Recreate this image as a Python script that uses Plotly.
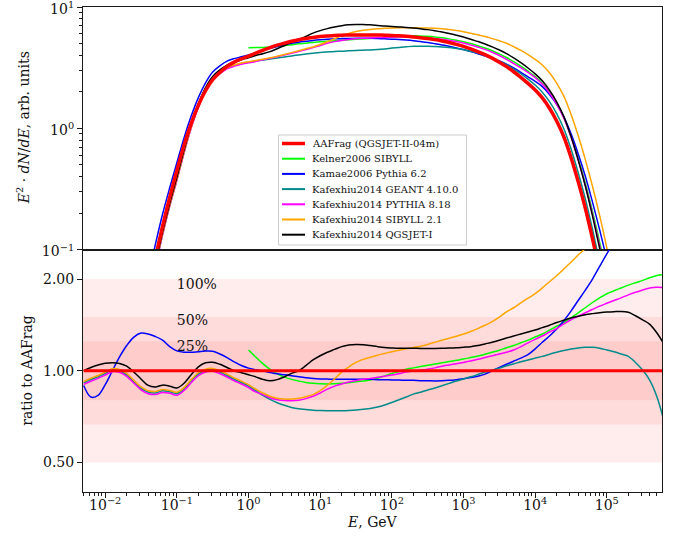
import plotly.graph_objects as go

# ---------------- data ----------------
log_E = [-2.3, -2.2, -2.1, -2.0, -1.9, -1.8, -1.7, -1.6, -1.5, -1.4,
         -1.3, -1.2, -1.1, -1.0, -0.9, -0.8, -0.7, -0.6, -0.5, -0.4,
         -0.3, -0.2, -0.1, 0.0, 0.1, 0.2, 0.3, 0.4, 0.5, 0.6,
         0.7, 0.8, 0.9, 1.0, 1.1, 1.2, 1.3, 1.4, 1.5, 1.6,
         1.7, 1.8, 1.9, 2.0, 2.1, 2.2, 2.3, 2.4, 2.5, 2.6,
         2.7, 2.8, 2.9, 3.0, 3.1, 3.2, 3.3, 3.4, 3.5, 3.6,
         3.7, 3.8, 3.9, 4.0, 4.1, 4.2, 4.3, 4.4, 4.5, 4.6,
         4.7, 4.8, 4.9, 5.0, 5.1, 5.2, 5.3, 5.4, 5.5, 5.6,
         5.7, 5.8]

# log10 of E^2 dN/dE for AAFrag (QGSJET-II-04m)
aafrag_log10 = [-4.0, -3.7, -3.4, -3.1, -2.8, -2.5, -2.2, -1.9, -1.62, -1.34,
                -1.07, -0.81, -0.57, -0.35, -0.14, 0.04, 0.19, 0.31, 0.40, 0.46,
                0.51, 0.545, 0.572, 0.595, 0.62, 0.643, 0.665, 0.685, 0.702, 0.717,
                0.73, 0.74, 0.749, 0.756, 0.761, 0.765, 0.767, 0.769, 0.77, 0.77,
                0.77, 0.769, 0.767, 0.765, 0.762, 0.758, 0.753, 0.747, 0.74, 0.731,
                0.72, 0.707, 0.692, 0.675, 0.655, 0.632, 0.607, 0.578, 0.545, 0.508,
                0.466, 0.42, 0.37, 0.315, 0.25, 0.165, 0.06, -0.07, -0.24, -0.44,
                -0.66, -0.91, -1.18, -1.47, -1.8, -2.15, -2.5, -2.9, -3.3, -3.75,
                -4.2, -4.7]

# ratios to AAFrag
ratio_kelner = [None] * 23 + [
    1.17, 1.11, 1.055, 1.01, 0.977, 0.953, 0.937,
    0.925, 0.915, 0.909, 0.906, 0.905, 0.906, 0.909, 0.914, 0.92, 0.926,
    0.932, 0.945, 0.962, 0.98, 0.995, 1.012, 1.022, 1.032, 1.042, 1.052,
    1.062, 1.072, 1.082, 1.092, 1.105, 1.118, 1.133, 1.15, 1.168, 1.19,
    1.21, 1.235, 1.26, 1.29, 1.32, 1.36, 1.4, 1.44, 1.49, 1.55,
    1.61, 1.675, 1.735, 1.79, 1.83, 1.87, 1.91, 1.945, 1.98, 2.02,
    2.055, 2.07]

ratio_kamae = [0.895, 0.82, 0.83, 0.9, 1.0, 1.11, 1.21, 1.29, 1.33, 1.32,
               1.295, 1.26, 1.2, 1.162, 1.15, 1.15, 1.155, 1.16, 1.158, 1.135,
               1.105, 1.07, 1.04, 1.02, 1.008, 0.998, 0.987, 0.977, 0.97, 0.963,
               0.955, 0.948, 0.943, 0.94, 0.939, 0.938, 0.938, 0.937, 0.937, 0.937,
               0.937, 0.935, 0.934, 0.933, 0.932, 0.931, 0.93, 0.928, 0.927, 0.926,
               0.927, 0.93, 0.935, 0.942, 0.95, 0.96, 0.975, 1.0, 1.025, 1.05,
               1.075, 1.10, 1.13, 1.18, 1.24, 1.30, 1.37, 1.46, 1.57, 1.70,
               1.84, 2.0, 2.2, 2.42, 2.65, 2.9, 3.2, 3.5, 3.8, 4.2,
               4.6, 5.0]

ratio_geant = [0.913, 0.936, 0.955, 0.98, 1.005, 1.0, 0.97, 0.921, 0.876, 0.851,
               0.846, 0.859, 0.853, 0.842, 0.871, 0.926, 0.975, 1.002, 1.008, 0.99,
               0.965, 0.938, 0.915, 0.89, 0.86, 0.83, 0.805, 0.785, 0.77, 0.758,
               0.75, 0.746, 0.742, 0.74, 0.739, 0.739, 0.739, 0.741, 0.744, 0.748,
               0.752, 0.76, 0.772, 0.787, 0.803, 0.82, 0.838, 0.85, 0.865, 0.878,
               0.893, 0.909, 0.925, 0.94, 0.955, 0.972, 0.99, 1.005, 1.02, 1.038,
               1.053, 1.07, 1.085, 1.1, 1.115, 1.133, 1.15, 1.165, 1.178, 1.188,
               1.194, 1.194, 1.185, 1.17, 1.155, 1.135, 1.115, 1.065, 1.005, 0.93,
               0.82, 0.68]

ratio_pythia = [0.902, 0.924, 0.944, 0.968, 0.993, 0.988, 0.958, 0.91, 0.866, 0.841,
                0.836, 0.849, 0.843, 0.831, 0.861, 0.914, 0.963, 0.99, 0.996, 0.978,
                0.954, 0.927, 0.905, 0.88, 0.852, 0.835, 0.815, 0.803, 0.798, 0.797,
                0.8, 0.81, 0.825, 0.845, 0.87, 0.89, 0.905, 0.918, 0.928, 0.937,
                0.944, 0.952, 0.96, 0.968, 0.978, 0.99, 0.997, 1.003, 1.012, 1.022,
                1.035, 1.045, 1.055, 1.065, 1.077, 1.09, 1.105, 1.12, 1.135, 1.15,
                1.17, 1.2, 1.235, 1.268, 1.30, 1.34, 1.375, 1.425, 1.47, 1.51,
                1.55, 1.59, 1.63, 1.665, 1.7, 1.735, 1.775, 1.81, 1.84, 1.87,
                1.88, 1.875]

ratio_sibyll = [0.922, 0.945, 0.965, 0.99, 1.015, 1.01, 0.98, 0.93, 0.885, 0.86,
                0.855, 0.868, 0.862, 0.85, 0.88, 0.935, 0.985, 1.012, 1.018, 1.0,
                0.975, 0.948, 0.925, 0.9, 0.87, 0.845, 0.825, 0.812, 0.807, 0.807,
                0.812, 0.822, 0.835, 0.86, 0.895, 0.94, 0.99, 1.03, 1.065, 1.09,
                1.108, 1.125, 1.14, 1.155, 1.168, 1.18, 1.192, 1.204, 1.22, 1.24,
                1.26, 1.278, 1.298, 1.32, 1.345, 1.375, 1.41, 1.45, 1.5, 1.56,
                1.61, 1.67, 1.73, 1.79, 1.87, 1.96, 2.05, 2.16, 2.27, 2.4,
                2.52, 2.7, 2.88, 3.05, 3.25, 3.45, 3.7, 3.95, 4.2, 4.5,
                4.8, 5.1]

ratio_qgsjet = [1.0, 1.025, 1.045, 1.058, 1.063, 1.057, 1.035, 0.99, 0.94, 0.895,
                0.885, 0.897, 0.89, 0.878, 0.91, 0.97, 1.03, 1.062, 1.066, 1.05,
                1.025, 1.0, 0.985, 0.97, 0.955, 0.937, 0.927, 0.935, 0.955, 0.98,
                1.0, 1.04, 1.085, 1.12, 1.15, 1.175, 1.2, 1.215, 1.22, 1.218,
                1.21, 1.2, 1.192, 1.188, 1.185, 1.185, 1.185, 1.184, 1.184, 1.184,
                1.185, 1.187, 1.19, 1.195, 1.2, 1.21, 1.225, 1.24, 1.26, 1.28,
                1.3, 1.32, 1.34, 1.36, 1.385, 1.41, 1.44, 1.465, 1.49, 1.51,
                1.528, 1.54, 1.55, 1.558, 1.563, 1.566, 1.555, 1.515, 1.47, 1.42,
                1.33, 1.22]

series_names = ["AAFrag (QGSJET-II-04m)", "Kelner2006 SIBYLL", "Kamae2006 Pythia 6.2",
                "Kafexhiu2014 GEANT 4.10.0", "Kafexhiu2014 PYTHIA 8.18",
                "Kafexhiu2014 SIBYLL 2.1", "Kafexhiu2014 QGSJET-I"]

band_labels = ["100%", "50%", "25%"]
band_low = [0.5, 2.0 / 3.0, 0.8]
band_high = [2.0, 1.5, 1.25]
band_label_x = [0.1, 0.1, 0.1]
band_label_y = [1.9, 1.45, 1.19]

x_tick_exp = [-2, -1, 0, 1, 2, 3, 4, 5]
ratio_ticks = [0.5, 1.0, 2.0]
ratio_ticktext = ["0.50", "1.00", "2.00"]

# ---------------- styles ----------------
colors = ["#ff0000", "#00ff00", "#0000ff", "#008b8b", "#ff00ff", "#ffa500", "#000000"]
widths = [3.5, 1.5, 1.5, 1.5, 1.5, 1.5, 1.5]
FONT = "DejaVu Serif"
AX = "#1a1a1a"
TXT = "#111111"

W, H = 682, 539
ML, MR, MT, MB = 83, 20, 7, 47
PW, PH = W - ML - MR, H - MT - MB


def px(X):
    return (X - ML) / PW


def py(Y):
    return (H - MB - Y) / PH


E = [10 ** v for v in log_E]
aafrag = [10 ** v for v in aafrag_log10]
ratios = [ratio_kelner, ratio_kamae, ratio_geant, ratio_pythia, ratio_sibyll, ratio_qgsjet]

fig = go.Figure()

# bands in the ratio panel
x_band = [10 ** -2.5, 10 ** 6.0, 10 ** 6.0, 10 ** -2.5]
for lo, hi in zip(band_low, band_high):
    fig.add_trace(go.Scatter(x=x_band, y=[lo, lo, hi, hi], fill="toself",
                             fillcolor="rgba(255,0,0,0.07)", line=dict(width=0),
                             mode="lines", hoverinfo="skip",
                             xaxis="x2", yaxis="y2"))

fig.add_trace(go.Scatter(x=band_label_x, y=band_label_y, text=band_labels, mode="text",
                         textposition="middle right",
                         textfont=dict(family=FONT, size=14, color=TXT),
                         hoverinfo="skip", xaxis="x2", yaxis="y2"))

# model curves
for k, r in enumerate(ratios):
    col = colors[k + 1]
    top = [None if rv is None else a * rv for a, rv in zip(aafrag, r)]
    fig.add_trace(go.Scatter(x=E, y=top, mode="lines", name=series_names[k + 1],
                             line=dict(color=col, width=widths[k + 1], shape="spline"),
                             xaxis="x", yaxis="y"))
    fig.add_trace(go.Scatter(x=E, y=r, mode="lines", name=series_names[k + 1],
                             line=dict(color=col, width=widths[k + 1], shape="spline"),
                             xaxis="x2", yaxis="y2"))

# AAFrag reference (drawn on top)
fig.add_trace(go.Scatter(x=E, y=aafrag, mode="lines", name=series_names[0],
                         line=dict(color=colors[0], width=widths[0], shape="spline"),
                         xaxis="x", yaxis="y"))
fig.add_trace(go.Scatter(x=E, y=[1.0] * len(E), mode="lines", name=series_names[0],
                         line=dict(color=colors[0], width=3.2),
                         xaxis="x2", yaxis="y2"))

# ---------------- legend (drawn as shapes + text) ----------------
leg_left, leg_right, leg_top, leg_bottom = 278.5, 466.5, 135.0, 245.0
row0, row_step = 143.5, 15.2
line_x0, line_x1, text_x = 282.0, 305.0, 309.5

shapes = [dict(type="rect", xref="paper", yref="paper", layer="above",
               x0=px(leg_left), x1=px(leg_right), y0=py(leg_bottom), y1=py(leg_top),
               line=dict(color="#cccccc", width=1), fillcolor="rgba(255,255,255,0.85)")]
annotations = []
for i, name in enumerate(series_names):
    yy = py(row0 + i * row_step)
    shapes.append(dict(type="line", xref="paper", yref="paper", layer="above",
                       x0=px(line_x0), x1=px(line_x1), y0=yy, y1=yy,
                       line=dict(color=colors[i], width=widths[i] if i == 0 else 2)))
    annotations.append(dict(text=name, xref="paper", yref="paper", x=px(text_x), y=yy,
                            xanchor="left", yanchor="middle", showarrow=False,
                            font=dict(family=FONT, size=10, color=TXT)))

annotations += [
    dict(text="<i>E</i><sup>2</sup> \u00b7 <i>dN</i>/<i>dE</i>, arb. units",
         xref="paper", yref="paper", x=0, y=0.75, xshift=-60, textangle=-90,
         showarrow=False, xanchor="center", yanchor="middle",
         font=dict(family=FONT, size=14, color=TXT)),
    dict(text="ratio to AAFrag", xref="paper", yref="paper", x=0, y=0.25,
         xshift=-56, textangle=-90, showarrow=False, xanchor="center",
         yanchor="middle", font=dict(family=FONT, size=14, color=TXT)),
    dict(text="<i>E</i>, GeV", xref="paper", yref="paper", x=0.5, y=0,
         yshift=-30, showarrow=False, xanchor="center", yanchor="middle",
         font=dict(family=FONT, size=14, color=TXT)),
]

x_minor = [k * 10 ** n for n in range(-3, 6) for k in range(2, 10)]
y_minor = [k * 10 ** n for n in range(-1, 1) for k in range(2, 10)]
tickfont = dict(family=FONT, size=14, color=TXT)
xrange = [-2.31, 5.77]

fig.update_layout(
    width=W, height=H,
    margin=dict(l=ML, r=MR, t=MT, b=MB, autoexpand=False),
    paper_bgcolor="white", plot_bgcolor="white",
    font=dict(family=FONT, size=14, color=TXT),
    showlegend=False,
    shapes=shapes,
    annotations=annotations,
    xaxis=dict(type="log", range=xrange, domain=[0, 1], anchor="y", automargin=False,
               showticklabels=False, ticks="", showgrid=False, zeroline=False,
               showline=True, mirror=True, linecolor=AX, linewidth=1.1),
    yaxis=dict(type="log", range=[-1, 1], domain=[0.5, 1], anchor="x", automargin=False,
               tickmode="array", tickvals=[0.1, 1, 10],
               ticktext=["10<sup>\u22121</sup>", "10<sup>0</sup>", "10<sup>1</sup>"],
               ticklabeloverflow="allow", ticklabelshift=2,
               ticks="outside", ticklen=5, tickwidth=1.1, tickcolor=AX,
               minor=dict(tickmode="array", tickvals=y_minor, ticks="outside",
                          ticklen=3, tickwidth=0.8, tickcolor=AX, showgrid=False),
               showgrid=False, zeroline=False, showline=True, mirror=True,
               linecolor=AX, linewidth=1.1, tickfont=tickfont),
    xaxis2=dict(type="log", range=xrange, domain=[0, 1], anchor="y2", automargin=False,
                tickmode="array", tickvals=[10 ** e for e in x_tick_exp],
                ticktext=["10<sup>%s</sup>" % (str(e).replace("-", "\u2212")) for e in x_tick_exp],
                ticklabelstandoff=-5,
                ticks="outside", ticklen=5, tickwidth=1.1, tickcolor=AX,
                minor=dict(tickmode="array", tickvals=x_minor, ticks="outside",
                           ticklen=3, tickwidth=0.8, tickcolor=AX, showgrid=False),
                showgrid=False, zeroline=False, showline=True, mirror=True,
                linecolor=AX, linewidth=1.1, tickfont=tickfont),
    yaxis2=dict(type="log", range=[-0.398, 0.398], domain=[0, 0.5], anchor="x2",
                automargin=False,
                tickmode="array", tickvals=ratio_ticks, ticktext=ratio_ticktext,
                ticks="outside", ticklen=5, tickwidth=1.1, tickcolor=AX,
                showgrid=False, zeroline=False, showline=True, mirror=True,
                linecolor=AX, linewidth=1.1, tickfont=tickfont),
)

fig.write_html("out.html", config={"displayModeBar": False},
               post_script="document.body.style.margin='0px';")
